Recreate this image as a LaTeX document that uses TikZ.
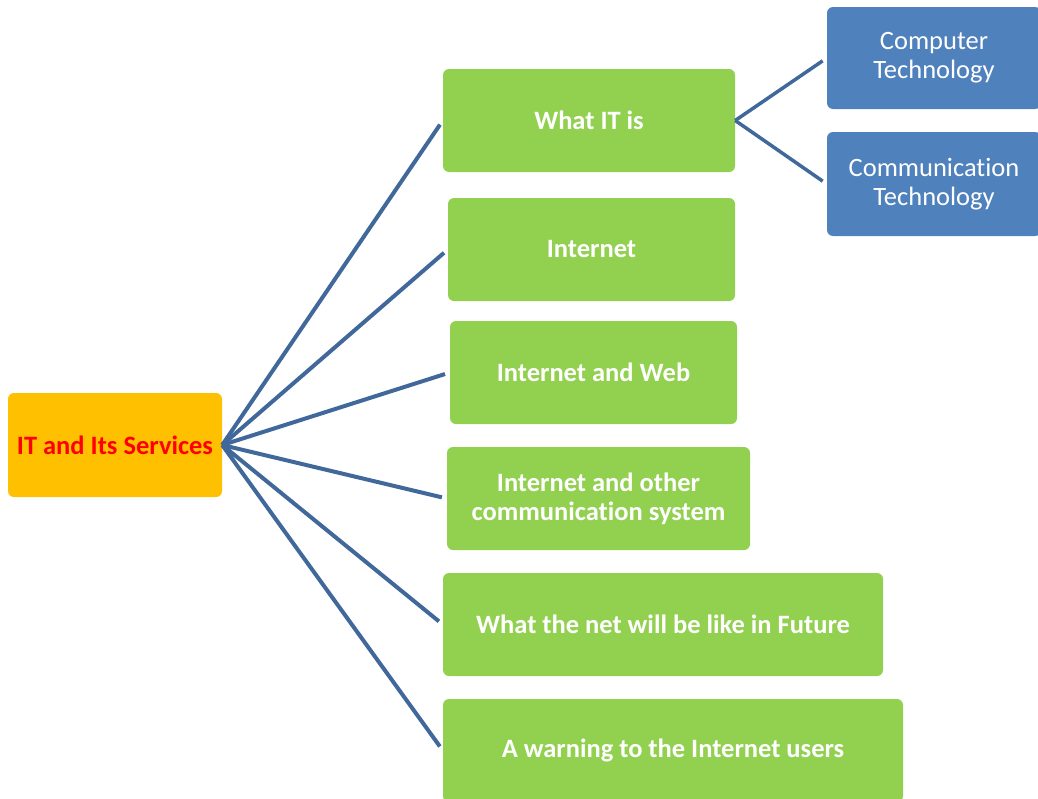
\documentclass[tikz,border=0pt]{standalone}
\usepackage{fontspec}
\setmainfont[Ligatures={NoCommon}]{Carlito}
\definecolor{gfill}{HTML}{92D050}
\definecolor{ofill}{HTML}{FFC000}
\definecolor{bfill}{HTML}{4F81BD}
\definecolor{lcol}{HTML}{41689A}
\tikzset{
  box/.style={rectangle, rounded corners=6pt, inner sep=0pt, align=center, text=white},
  greenbox/.style={box, fill=gfill, font=\fontsize{26.5}{29}\selectfont\bfseries},
  bluebox/.style={box, fill=bfill, font=\fontsize{26.5}{29}\selectfont},
  rootbox/.style={box, fill=ofill, text=red, font=\fontsize{26.5}{29}\selectfont\bfseries},
  conn/.style={draw=lcol, line width=4pt, shorten >=5pt},
  subconn/.style={draw=lcol, line width=3.5pt, shorten >=5pt}
}
\begin{document}
\begin{tikzpicture}[x=1pt,y=-1pt]
\useasboundingbox (0,0) rectangle (1038,798);
\node[rootbox, minimum width=214pt, minimum height=104pt] (root) at (115,445) {IT and Its Services};
\node[greenbox, minimum width=292pt, minimum height=103pt] (g1) at (589,120.5) {What IT is};
\node[greenbox, minimum width=287pt, minimum height=103pt] (g2) at (591.5,249.5) {Internet};
\node[greenbox, minimum width=287pt, minimum height=103pt] (g3) at (593.5,372.5) {Internet and Web};
\node[greenbox, minimum width=303pt, minimum height=103pt] (g4) at (598.5,498.5) {Internet and other\\communication system};
\node[greenbox, minimum width=440pt, minimum height=103pt] (g5) at (663,624.5) {What the net will be like in Future};
\node[greenbox, minimum width=460pt, minimum height=103pt] (g6) at (673,750.5) {A warning to the Internet users};
\node[bluebox, minimum width=214pt, minimum height=102pt] (b1) at (934,58) {Computer\\Technology};
\node[bluebox, minimum width=214pt, minimum height=104pt] (b2) at (934,184) {Communication\\Technology};
\foreach \g in {g1,g2,g3,g4,g5,g6} {
  \draw[conn] (root.east) -- (\g.west);
}
\draw[subconn] (g1.east) -- (b1.west);
\draw[subconn] (g1.east) -- (b2.west);
\end{tikzpicture}
\end{document}
